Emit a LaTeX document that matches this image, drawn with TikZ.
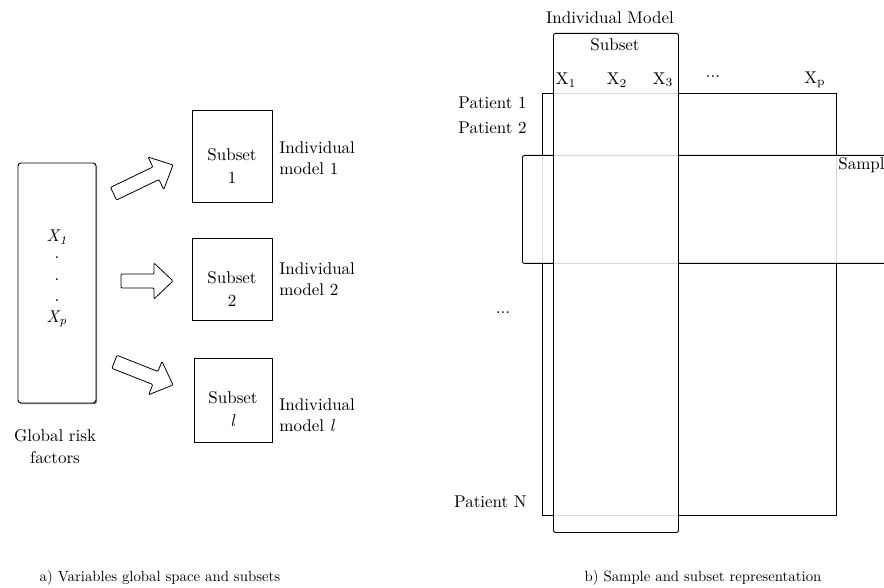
\documentclass[tikz,border=0pt]{standalone}
\usetikzlibrary{calc,shadows}
\begin{document}
\begin{tikzpicture}[x=1pt,y=-1pt,
  lbl/.style={font=\fontsize{10}{12.4}\selectfont, inner sep=0pt, scale=1.7, transform shape},
  captxt/.style={font=\fontsize{10}{12}\selectfont, inner sep=0pt, anchor=base, scale=1.48, transform shape},
  box/.style={draw, line width=0.9pt, inner sep=0pt},
  veil/.style={box, fill=white, fill opacity=0.85},
  pics/blockarrow/.style={code={
    \draw[line width=0.8pt, rounded corners=1pt, fill=white]
      (-#1,-7) -- (-19,-7) -- (-19,-18) -- (0,0) -- (-19,18) -- (-19,7) -- (-#1,7) -- cycle;
  }}]
\useasboundingbox (0,0) rectangle (884,588);

% ---------- a) global space of variables and subsets ----------
\node[box, rounded corners=3pt, minimum width=78, minimum height=240,
      drop shadow={shadow xshift=1.2pt, shadow yshift=-1.2pt, opacity=0.5, fill=black}, fill=white]
      (glob) at (57,283) {};
\node[lbl] (gx1) at (57,237) {\textit{X\textsubscript{1}}};
\node[lbl] (gd1) at (57,258) {.};
\node[lbl] (gd2) at (57,280) {.};
\node[lbl] (gd3) at (57,301) {.};
\node[lbl] (gxp) at (57,319) {\textit{X\textsubscript{p}}};
\node[lbl, align=center] (glbl) at (55,447) {Global risk\\[0.6pt]factors};

\node[box, minimum width=80, minimum height=92] (s1) at (232,156) {};
\node[box, minimum width=80, minimum height=82] (s2) at (232,279) {};
\node[box, minimum width=78, minimum height=84] (s3) at (233,400) {};
\node[lbl, align=center] (s1t) at ($(s1.center)+(0,10)$) {Subset\\[1pt]1};
\node[lbl, align=center] (s2t) at ($(s2.center)+(0,10)$) {Subset\\[1pt]2};
\node[lbl, align=center] (s3t) at ($(s3.center)+(0,9)$) {Subset\\[1pt]\textit{l}};
\node[lbl, align=left, anchor=west] (m1) at (279,158) {Individual\\model 1};
\node[lbl, align=left, anchor=west] (m2) at (279,279) {Individual\\model 2};
\node[lbl, align=left, anchor=west] (m3) at (279,415) {Individual\\model \textit{l}};

% block arrows from the global box towards each subset
\pic[rotate=25.8] at (173,165) {blockarrow=66};
\pic at (173,281) {blockarrow=52};
\pic[rotate=-21.6] at (173,385) {blockarrow=63};

% ---------- b) samples and subset ----------
\node[box, anchor=north west, minimum width=294, minimum height=422] (pat) at (542,93) {};
\node[veil, rounded corners=2pt, anchor=north west, minimum width=380, minimum height=108] (smp) at (522,155) {};
\node[lbl, anchor=north west] (smpl) at (838,157) {Sample};
\node[veil, rounded corners=2pt, anchor=north west, minimum width=125, minimum height=499] (sub) at (553,33) {};

\node[lbl] (imlbl) at (610,18) {Individual Model};
\node[lbl] (sublbl) at (615,45) {Subset};
\node[lbl] (v1) at (566,80) {X\textsubscript{1}};
\node[lbl] (v2) at (617,80) {X\textsubscript{2}};
\node[lbl] (v3) at (663,80) {X\textsubscript{3}};
\node[lbl] (vd) at (713,77) {...};
\node[lbl] (vp) at (815,80) {X\textsubscript{p}};

\node[lbl, anchor=east] (p1) at (527,103) {Patient 1};
\node[lbl, anchor=east] (p2) at (527,128) {Patient 2};
\node[lbl] (pd) at (503,313) {...};
\node[lbl, anchor=east] (pn) at (527,502) {Patient N};

% ---------- captions ----------
\node[captxt] (capa) at (160,581) {a) Variables global space and subsets};
\node[captxt] (capb) at (703,581) {b) Sample and subset representation};
\end{tikzpicture}
\end{document}
